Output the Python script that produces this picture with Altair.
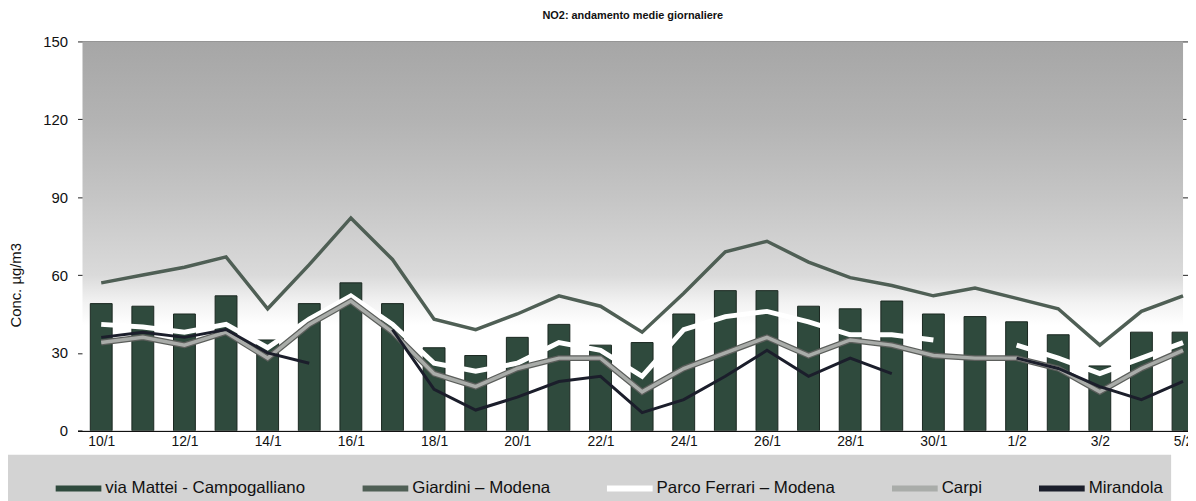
import json
import altair as alt
import pandas as pd

# ---- data ----
date_labels = ["10/1", "11/1", "12/1", "13/1", "14/1", "15/1", "16/1", "17/1", "18/1",
               "19/1", "20/1", "21/1", "22/1", "23/1", "24/1", "25/1", "26/1", "27/1",
               "28/1", "29/1", "30/1", "31/1", "1/2", "2/2", "3/2", "4/2", "5/2"]

via_mattei = [49, 48, 45, 52, 35, 49, 57, 49, 32, 29, 36, 41, 33, 34, 45, 54, 54, 48,
              47, 50, 45, 44, 42, 37, 25, 38, 38]
giardini = [57, 60, 63, 67, 47, 64, 82, 66, 43, 39, 45, 52, 48, 38, 53, 69, 73, 65,
            59, 56, 52, 55, 51, 47, 33, 46, 52]
parco_ferrari = [41, 40, 38, 41, 32, 43, 52, 41, 26, 23, 26, 34, 31, 21, 39, 44, 46, 42,
                 37, 37, 35, None, 33, 28, 22, 28, 34]
carpi = [34, 36, 33, 38, 28, 41, 50, 38, 22, 17, 24, 28, 28, 15, 24, 30, 36, 29,
         35, 33, 29, 28, 28, 24, 15, 24, 31]
mirandola = [36, 38, 36, 39, 30, 26, None, 39, 16, 8, 13, 19, 21, 7, 12, 21, 31, 21,
             28, 22, None, None, 28, 24, 17, 12, 19]

series_names = ["via Mattei - Campogalliano", "Giardini \u2013 Modena",
                "Parco Ferrari \u2013 Modena", "Carpi", "Mirandola"]
series_colors = ["#2f4a3d", "#4f5f55", "#ffffff", "#a9aca9", "#1b1e2b"]
y_ticks = [0, 30, 60, 90, 120, 150]
x_ticks = list(range(0, 27, 2))

rows = []
for name, vals in zip(series_names, [via_mattei, giardini, parco_ferrari, carpi, mirandola]):
    for i, v in enumerate(vals):
        rows.append({"i": i, "date": date_labels[i], "serie": name, "value": v})
df = pd.DataFrame(rows)

FONT = "Liberation Sans"

x_scale = alt.Scale(domain=[-0.45, 26], nice=False, zero=False)
y_scale = alt.Scale(domain=[0, 150], nice=False)

x_axis = alt.Axis(values=x_ticks, labelExpr=json.dumps(date_labels) + "[datum.value]",
                  title=None, grid=False, ticks=False, domain=True, domainColor="#111",
                  domainWidth=1.5, labelFontSize=14, labelPadding=4, labelFlush=False,
                  labelColor="#111", labelFont=FONT, labelOverlap=False)
y_axis = alt.Axis(values=y_ticks, title="Conc. \u00b5g/m3", grid=True, gridColor="#222",
                  gridWidth=1,
                  gridDash={"condition": {"test": "datum.value == 30 || datum.value == 120",
                                          "value": [6, 4]}, "value": []},
                  domain=False, ticks=False, labelPadding=10, labelFontSize=15,
                  labelColor="#111", labelFont=FONT, titleFont=FONT, titleFontSize=15,
                  titleFontWeight="normal", titleColor="#111", titlePadding=19,
                  titleY=245)

legend = alt.Legend(title=" ", titleOrient="left", titlePadding=37, orient="none",
                    legendX=-70, legendY=416, direction="horizontal", columns=5,
                    columnPadding=45, symbolType="stroke", symbolSize=2116,
                    symbolStrokeWidth=6,
                    labelFontSize=17, labelFont=FONT, labelColor="#111", labelLimit=400,
                    labelBaseline="middle",
                    fillColor="#d3d3d3", padding=8, labelOffset=1)

color_scale = alt.Scale(domain=series_names, range=series_colors)

base = alt.Chart(df)

bg = alt.Chart(pd.DataFrame({"a": [0]})).mark_rect(
    fill=alt.LinearGradient(gradient="linear", x1=0, x2=0, y1=0, y2=1, stops=[
        alt.GradientStop(color="#a6a6a6", offset=0),
        alt.GradientStop(color="#b3b3b3", offset=0.2),
        alt.GradientStop(color="#c5c5c5", offset=0.4),
        alt.GradientStop(color="#dadada", offset=0.6),
        alt.GradientStop(color="#f2f2f2", offset=0.67),
        alt.GradientStop(color="#ffffff", offset=0.73),
        alt.GradientStop(color="#ffffff", offset=1),
    ])
).encode(
    x=alt.XDatum(-0.45, scale=x_scale, axis=x_axis),
    x2=alt.X2Datum(26),
    y=alt.YDatum(150, scale=y_scale, axis=y_axis),
    y2=alt.Y2Datum(0),
)

bars = base.transform_filter(alt.datum.serie == series_names[0]).mark_bar(
    size=22, clip=True, color=series_colors[0], stroke="#1a2720", strokeWidth=1
).encode(
    x=alt.X("i:Q", scale=x_scale, axis=x_axis),
    y=alt.Y("value:Q", scale=y_scale, axis=y_axis),
)


def line_layer(name, width, color_enc=True, color=None):
    ch = base.transform_filter(alt.datum.serie == name).mark_line(
        strokeWidth=width, clip=True, invalid="break-paths-show-domains",
        strokeJoin="miter", **({"color": color} if color else {})
    )
    enc = dict(
        x=alt.X("i:Q", scale=x_scale, axis=x_axis),
        y=alt.Y("value:Q", scale=y_scale, axis=y_axis),
    )
    if color_enc:
        enc["color"] = alt.Color("serie:N", scale=color_scale, legend=legend)
    return ch.encode(**enc)


carpi_outline = line_layer(series_names[3], 6, color_enc=False, color="#5c5f5c")
giardini_l = line_layer(series_names[1], 3.5)
ferrari_l = line_layer(series_names[2], 5)
carpi_l = line_layer(series_names[3], 3.5)
mirandola_l = line_layer(series_names[4], 3)

chart = alt.layer(bg, bars, giardini_l, ferrari_l, carpi_outline, carpi_l, mirandola_l).properties(
    width=1118, height=392,
    autosize="none",
    padding={"left": 70, "top": 32, "right": 0, "bottom": 69},
    title=alt.TitleParams("NO2: andamento medie giornaliere", fontSize=11, fontWeight="bold",
                          font=FONT, anchor="middle", offset=14, color="#111"),
).configure_view(stroke=None)

chart.save("out.html", embed_options={"renderer": "svg", "actions": False})
